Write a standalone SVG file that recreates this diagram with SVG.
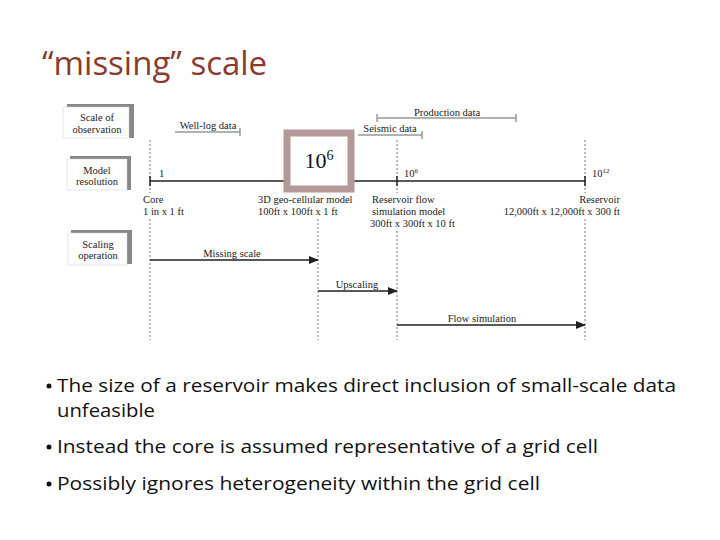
<svg xmlns="http://www.w3.org/2000/svg" width="720" height="540" viewBox="0 0 720 540">
<style>
.d{font-family:"Liberation Serif",serif;font-size:10.5px;fill:#222}
.b{font-family:"Open Sans","Liberation Sans",sans-serif;font-size:19px;fill:#111}
.dash{stroke:#555;stroke-width:0.8;stroke-dasharray:2,2;fill:none}
.ul{stroke:#999;stroke-width:1.5}
.ln{stroke:#222;stroke-width:1.5;fill:none}
.sh{fill:#888}
.bx{fill:#fff;stroke:#ccc;stroke-width:0.5}
</style>
<defs><marker id="a" markerWidth="10" markerHeight="8" refX="9" refY="4" orient="auto" markerUnits="userSpaceOnUse"><path d="M0,0L10,4L0,8z" fill="#222"/></marker></defs>
<rect width="720" height="540" fill="#fff"/>
<text x="42" y="75" font-family="Open Sans,Liberation Sans,sans-serif" font-size="33" fill="#8b3a2e">“missing” scale</text>
<g id="scale-of-observation"><rect class="sh" x="67" y="104" width="67" height="34"/><rect class="bx" x="63" y="107" width="66" height="31"/><text class="d" x="97" y="121" text-anchor="middle">Scale of</text><text class="d" x="97" y="133" text-anchor="middle">observation</text></g>
<g id="model-resolution"><rect class="sh" x="70" y="156" width="61" height="34"/><rect class="bx" x="67" y="159" width="60" height="31"/><text class="d" x="97" y="174" text-anchor="middle">Model</text><text class="d" x="97" y="185" text-anchor="middle">resolution</text></g>
<g id="scaling-operation"><rect class="sh" x="71" y="230" width="61" height="34"/><rect class="bx" x="68" y="233" width="59" height="32"/><text class="d" x="98" y="248" text-anchor="middle">Scaling</text><text class="d" x="98" y="259" text-anchor="middle">operation</text></g>
<g id="connectors">
<path class="dash" d="M150,140V193M150,219V340M318,219V340M397,140V193M397,231V340M585,140V193M585,219V340"/>
<line class="ln" x1="150" y1="181" x2="585" y2="181"/>
<path class="ln" stroke-width="3" d="M150,176V186M397,176V186M585,176V186"/>
<line class="ln" x1="150" y1="260" x2="318" y2="260" marker-end="url(#a)"/>
<line class="ln" x1="318" y1="291" x2="397" y2="291" marker-end="url(#a)"/>
<line class="ln" x1="397" y1="325" x2="585" y2="325" marker-end="url(#a)"/>
<line class="ul" x1="175" y1="132" x2="240" y2="132"/><line class="ul" x1="240" y1="128" x2="240" y2="136"/>
<line class="ul" x1="358" y1="135" x2="422" y2="135"/><line class="ul" x1="422" y1="131" x2="422" y2="139"/>
<line class="ul" x1="377" y1="118" x2="516" y2="118"/><line class="ul" x1="377" y1="114" x2="377" y2="122"/><line class="ul" x1="516" y1="114" x2="516" y2="122"/>
</g>
<text class="d" x="208" y="129" text-anchor="middle">Well-log data</text>
<text class="d" x="390" y="132" text-anchor="middle">Seismic data</text>
<text class="d" x="447" y="116" text-anchor="middle">Production data</text>
<text class="d" x="159" y="177">1</text>
<text class="d" x="404" y="177">10<tspan font-size="7" dy="-4">6</tspan></text>
<text class="d" x="592" y="177">10<tspan font-size="7" dy="-4">12</tspan></text>
<text class="d" x="143" y="203">Core</text><text class="d" x="143" y="215">1 in x 1 ft</text>
<text class="d" x="258" y="203">3D geo-cellular model</text><text class="d" x="258" y="215">100ft x 100ft x 1 ft</text>
<text class="d" x="372" y="203">Reservoir flow</text><text class="d" x="372" y="215">simulation model</text><text class="d" x="370" y="227">300ft x 300ft x 10 ft</text>
<text class="d" x="620" y="203" text-anchor="end">Reservoir</text><text class="d" x="620" y="215" text-anchor="end">12,000ft x 12,000ft x 300 ft</text>
<text class="d" x="232" y="257" text-anchor="middle">Missing scale</text>
<text class="d" x="357" y="288" text-anchor="middle">Upscaling</text>
<text class="d" x="482" y="322" text-anchor="middle">Flow simulation</text>
<g id="box-10-6"><rect x="287" y="133" width="64" height="56" fill="#fff" stroke="#b59999" stroke-width="7"/><text x="319" y="168" text-anchor="middle" font-family="Liberation Serif,serif" font-size="22" fill="#111">10<tspan font-size="14" dy="-8">6</tspan></text></g>
<circle cx="49" cy="386" r="2.5" fill="#111"/><text class="b" x="57" y="392" textLength="619" lengthAdjust="spacingAndGlyphs">The size of a reservoir makes direct inclusion of small-scale data</text>
<text class="b" x="57" y="417" textLength="98" lengthAdjust="spacingAndGlyphs">unfeasible</text>
<circle cx="49" cy="447" r="2.5" fill="#111"/><text class="b" x="57" y="453" textLength="541" lengthAdjust="spacingAndGlyphs">Instead the core is assumed representative of a grid cell</text>
<circle cx="49" cy="484" r="2.5" fill="#111"/><text class="b" x="57" y="490" textLength="483" lengthAdjust="spacingAndGlyphs">Possibly ignores heterogeneity within the grid cell</text>
</svg>
